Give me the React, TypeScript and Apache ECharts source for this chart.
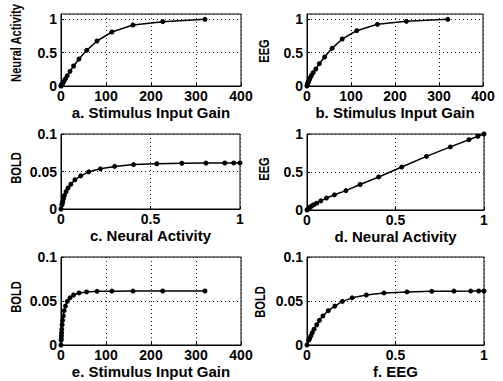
import React, { useEffect, useRef } from "react";
import * as echarts from "echarts";

// Stimulus input gain values (sample points)
const stimulus = [320, 226, 160, 113, 80, 57, 40, 28, 20, 14, 10, 7, 5, 3.5, 2.5, 1.8, 1.25, 0.9, 0.6, 0.45, 0];
// Neural activity at each stimulus
const neural = [1.0, 0.965, 0.915, 0.81, 0.675, 0.535, 0.405, 0.3, 0.22, 0.155, 0.11, 0.078, 0.055, 0.039, 0.028, 0.019, 0.014, 0.01, 0.007, 0.005, 0];
// EEG at each stimulus
const eeg = [1.0, 0.97, 0.925, 0.83, 0.705, 0.565, 0.435, 0.335, 0.255, 0.2, 0.157, 0.12, 0.09, 0.07, 0.055, 0.04, 0.03, 0.022, 0.015, 0.01, 0];
// BOLD at each stimulus
const bold = [0.0614, 0.0614, 0.0613, 0.0612, 0.061, 0.0603, 0.0592, 0.0568, 0.0536, 0.0496, 0.0442, 0.039, 0.033, 0.028, 0.023, 0.018, 0.014, 0.0105, 0.0075, 0.0055, 0];

const xTitles = [
  "a. Stimulus Input Gain",
  "b. Stimulus Input Gain",
  "c. Neural Activity",
  "d. Neural Activity",
  "e. Stimulus Input Gain",
  "f. EEG",
];
const yTitles = ["Neural Activity", "EEG", "BOLD", "EEG", "BOLD", "BOLD"];

const panelX = [stimulus, stimulus, neural, neural, stimulus, eeg];
const panelY = [neural, eeg, bold, eeg, bold, bold];

const xRanges = [
  { min: 0, max: 400, interval: 100 },
  { min: 0, max: 400, interval: 100 },
  { min: 0, max: 1, interval: 0.5 },
  { min: 0, max: 1, interval: 0.5 },
  { min: 0, max: 400, interval: 100 },
  { min: 0, max: 1, interval: 0.5 },
];
const yRanges = [
  { min: 0, max: 1.08, interval: 0.5, showMax: false },
  { min: 0, max: 1.08, interval: 0.5, showMax: false },
  { min: 0, max: 0.1, interval: 0.05, showMax: true },
  { min: 0, max: 1, interval: 0.5, showMax: true },
  { min: 0, max: 0.1, interval: 0.05, showMax: true },
  { min: 0, max: 0.1, interval: 0.05, showMax: true },
];

// layout
const grids = [
  { left: 61, top: 14, width: 180, height: 72 },
  { left: 307, top: 14, width: 176, height: 72 },
  { left: 61, top: 134, width: 179, height: 75 },
  { left: 307, top: 134, width: 177, height: 76 },
  { left: 61, top: 257, width: 180, height: 88 },
  { left: 307, top: 257, width: 177, height: 88 },
];
const yLabelPos = [
  { x: 17, y: 43 },
  { x: 265, y: 51 },
  { x: 17, y: 168 },
  { x: 265, y: 169 },
  { x: 17, y: 297 },
  { x: 261, y: 302 },
];

const FONT = '"Liberation Sans", Arial, sans-serif';

export default function App() {
  const ref = useRef<HTMLDivElement>(null);
  useEffect(() => {
    if (!ref.current) return;
    const chart = echarts.init(ref.current, undefined, { renderer: "svg" });
    const gridLine = { show: true, lineStyle: { color: "#222", type: [1, 3], width: 1 } };
    const option: any = {
      animation: false,
      backgroundColor: "#fff",
      grid: grids.map((g) => ({
        ...g,
        show: true,
        borderColor: "#000",
        borderWidth: 1,
        backgroundColor: "#fff",
        containLabel: false,
      })),
      xAxis: xRanges.map((r, i) => ({
        type: "value",
        gridIndex: i,
        min: r.min,
        max: r.max,
        interval: r.interval,
        name: xTitles[i],
        nameLocation: "middle",
        nameGap: 19,
        nameTextStyle: { color: "#000", fontFamily: FONT, fontWeight: "bold", fontSize: 15 },
        axisLine: { show: true, lineStyle: { color: "#000", width: 1 } },
        axisTick: { show: true, inside: true, length: 3, lineStyle: { color: "#000" } },
        axisLabel: { color: "#000", fontFamily: FONT, fontWeight: "bold", fontSize: 14, margin: 3 },
        splitLine: gridLine,
      })),
      yAxis: yRanges.map((r, i) => ({
        type: "value",
        gridIndex: i,
        min: r.min,
        max: r.max,
        interval: r.interval,
        axisLine: { show: true, lineStyle: { color: "#000", width: 1 } },
        axisTick: { show: true, inside: true, length: 3, lineStyle: { color: "#000" } },
        axisLabel: {
          color: "#000",
          fontFamily: FONT,
          fontWeight: "bold",
          fontSize: 14,
          margin: 4,
          showMaxLabel: r.showMax,
        },
        splitLine: gridLine,
      })),
      series: panelX.map((xs, i) => ({
        type: "line",
        xAxisIndex: i,
        yAxisIndex: i,
        data: xs.map((x, k) => [x, panelY[i][k]]),
        symbol: "circle",
        symbolSize: 5,
        showAllSymbol: true,
        lineStyle: { color: "#000", width: 1.5 },
        itemStyle: { color: "#000" },
        z: 5,
      })),
      graphic: yTitles.map((t, i) => ({
        type: "text",
        x: yLabelPos[i].x,
        y: yLabelPos[i].y,
        rotation: Math.PI / 2,
        scaleX: 0.8,
        style: {
          text: t,
          fill: "#000",
          fontFamily: FONT,
          fontWeight: "bold",
          fontSize: 14,
          align: "center",
          verticalAlign: "middle",
          textAlign: "center",
          textVerticalAlign: "middle",
        },
      })),
    };
    chart.setOption(option);
    return () => chart.dispose();
  }, []);
  return (
    <div
      ref={ref}
      style={{ position: "fixed", left: 0, top: 0, width: 503, height: 381 }}
    />
  );
}
